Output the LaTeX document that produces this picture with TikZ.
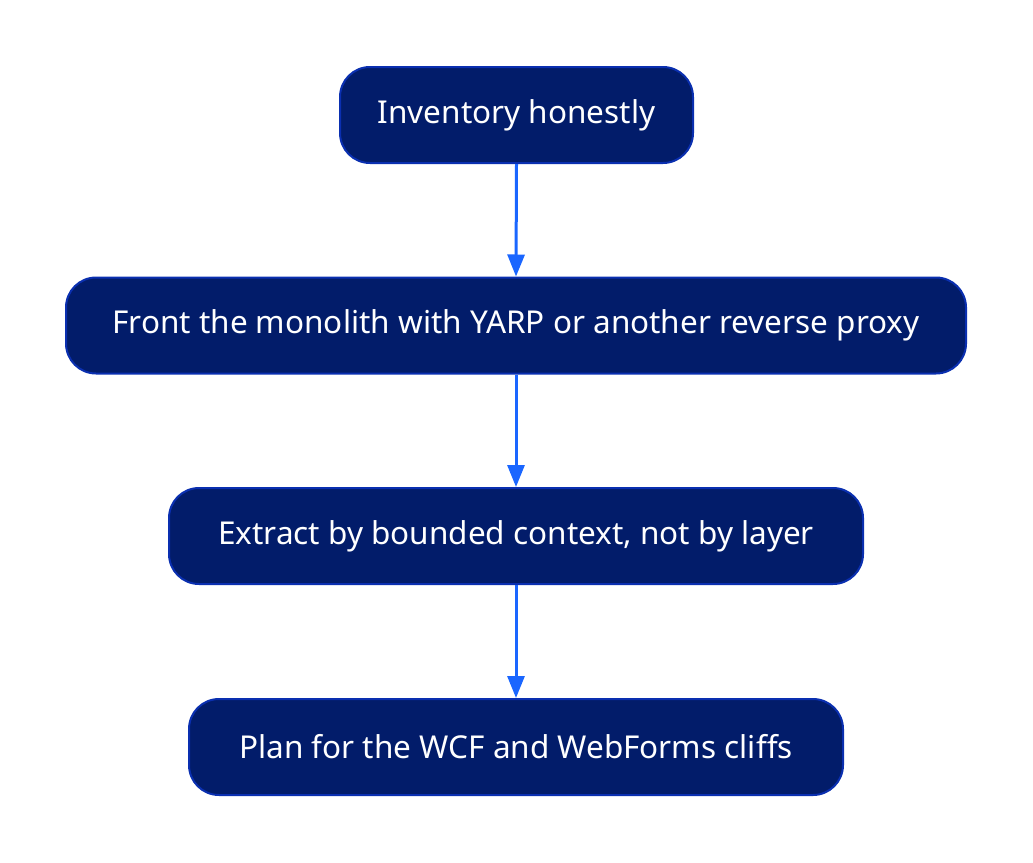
\documentclass[tikz,border=0pt]{standalone}
\usepackage{fontspec}
\setmainfont{Noto Sans}
\usetikzlibrary{arrows.meta}
\definecolor{boxfill}{HTML}{021C6A}
\definecolor{boxline}{HTML}{0A2FB0}
\definecolor{arrowc}{HTML}{1A66FF}
\begin{document}
\begin{tikzpicture}[x=1pt,y=-1pt,
  stepbox/.style={draw=boxline, fill=boxfill, line width=2pt, rounded corners=30pt,
    text=white, font=\fontsize{31.5}{36}\selectfont, inner sep=0pt, minimum height=96pt, anchor=center},
  conn/.style={draw=arrowc, line width=3pt, -{Triangle[length=22pt,width=17pt]}, shorten >=0pt}]
\useasboundingbox (0,0) rectangle (1033,862);
\node[stepbox, minimum width=353pt] (a) at (516.5,115) {Inventory honestly};
\node[stepbox, minimum width=900pt] (b) at (516,325.5) {Front the monolith with YARP or another reverse proxy};
\node[stepbox, minimum width=694pt] (c) at (516,536) {Extract by bounded context, not by layer};
\node[stepbox, minimum width=654pt] (d) at (516,747) {Plan for the WCF and WebForms cliffs};
\draw[conn] (a.south) -- (b.north);
\draw[conn] (b.south) -- (c.north);
\draw[conn] (c.south) -- (d.north);
\end{tikzpicture}
\end{document}
